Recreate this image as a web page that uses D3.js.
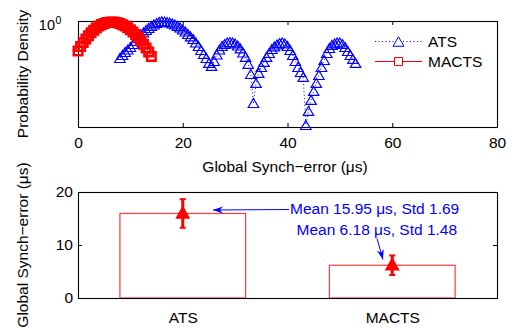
<!DOCTYPE html>
<html><head><meta charset="utf-8">
<script src="https://cdn.jsdelivr.net/npm/d3@7"></script>
<style>
body{margin:0;background:#fff}
svg{display:block;font-family:"Liberation Sans",Arial,Helvetica,sans-serif}
</style>
</head><body>
<svg id="chart" width="514" height="328"></svg>
<script>
// Synch-error probability density per method (log density axis)
const atsX = [8,8.5,9,9.5,10,10.5,11,11.5,12,12.5,13,13.5,14,14.5,15,15.5,16,16.5,17,17.5,18,18.5,19,19.5,20,20.5,21,21.5,22,22.5,23,23.5,24,24.5,25,25.5,26,26.5,27,27.5,28,28.5,29,29.5,30,30.5,31,31.5,32,32.5,33,33.5,34,34.5,35,35.5,36,36.5,37,37.5,38,38.5,39,39.5,40,40.5,41,41.5,42,42.5,43,43.5,44,44.5,45,45.5,46,46.5,47,47.5,48,48.5,49,49.5,50,50.5,51,51.5,52,52.5,53];
const atsDensity = [0.653,0.676,0.700,0.720,0.741,0.767,0.794,0.822,0.851,0.876,0.902,0.923,0.944,0.961,0.977,0.989,0.997,0.994,0.989,0.983,0.972,0.961,0.944,0.928,0.907,0.886,0.861,0.837,0.813,0.781,0.750,0.716,0.684,0.653,0.617,0.596,0.631,0.680,0.720,0.750,0.767,0.781,0.785,0.781,0.772,0.754,0.729,0.696,0.661,0.610,0.543,0.389,0.490,0.550,0.589,0.624,0.661,0.692,0.724,0.746,0.763,0.776,0.781,0.772,0.750,0.716,0.676,0.631,0.589,0.556,0.525,0.302,0.355,0.403,0.447,0.490,0.537,0.589,0.638,0.692,0.733,0.759,0.772,0.781,0.781,0.767,0.741,0.708,0.676,0.646,0.617];
const mactsX = [0,0.5,1,1.5,2,2.5,3,3.5,4,4.5,5,5.5,6,6.5,7,7.5,8,8.5,9,9.5,10,10.5,11,11.5,12,12.5,13,13.5,14];
const mactsDensity = [0.708,0.745,0.780,0.813,0.844,0.873,0.899,0.923,0.943,0.960,0.973,0.982,0.987,0.989,0.986,0.980,0.971,0.959,0.944,0.925,0.904,0.881,0.855,0.827,0.797,0.766,0.733,0.699,0.665];
const densityTicks = [0,20,40,60,80];

// Mean global synch-error per method
const methods = ["ATS","MACTS"];
const meanError = [15.95, 6.18];
const stdError = [1.69, 1.48];
const errorSpread = [2.7, 1.85];
const errorTicks = [0,10,20];

const svg = d3.select("#chart");
const FS = 15.5;
const BLUE = "#0000ff", RED = "#ff0000";

// ---------- upper panel: density ----------
const upper = {l:78, r:497, t:21, b:127};
const x1 = d3.scaleLinear().domain([0,80]).range([upper.l, upper.r]);
const y1 = d3.scaleLog().domain([0.295,1]).range([upper.b, upper.t]);

const gx1 = svg.append("g").attr("transform",`translate(0,${upper.b})`)
  .call(d3.axisBottom(x1).tickValues(densityTicks).tickSizeInner(-4).tickSizeOuter(0).tickPadding(10).tickFormat(d3.format("d")));
gx1.select(".domain").remove();
gx1.selectAll("text").attr("font-size",FS).attr("fill","#000").attr("font-family",null);
gx1.selectAll("line").attr("stroke","#000");
const gx1t = svg.append("g").attr("transform",`translate(0,${upper.t})`)
  .call(d3.axisTop(x1).tickValues(densityTicks).tickSizeInner(-4).tickSizeOuter(0).tickFormat(""));
gx1t.select(".domain").remove();

const gy1 = svg.append("g").attr("transform",`translate(${upper.l},0)`)
  .call(d3.axisLeft(y1).tickValues([1]).tickSizeInner(-4).tickSizeOuter(0).tickFormat(""));
gy1.select(".domain").remove();
svg.append("text").attr("x",55).attr("y",29.5).attr("text-anchor","end").attr("font-size",14.5).text("10");
svg.append("text").attr("x",55.5).attr("y",23.5).attr("font-size",10.5).text("0");

svg.append("rect").attr("x",upper.l+0.5).attr("y",upper.t+0.5).attr("width",upper.r-upper.l).attr("height",upper.b-upper.t)
  .attr("fill","none").attr("stroke","#000").attr("stroke-width",1.1);

const tri = (w,h) => `M0,${-h/2}L${w/2},${h/2}L${-w/2},${h/2}Z`;
const sq = s => `M${-s/2},${-s/2}h${s}v${s}h${-s}Z`;

const atsPts = atsX.map((v,i)=>[x1(v), y1(atsDensity[i])]);
const mactsPts = mactsX.map((v,i)=>[x1(v), y1(mactsDensity[i])]);

svg.append("path").attr("d", d3.line()(atsPts)).attr("fill","none").attr("stroke",BLUE)
  .attr("stroke-width",1).attr("stroke-dasharray","1,2.5");
svg.append("g").selectAll("path").data(atsPts).join("path")
  .attr("transform",d=>`translate(${d[0]},${d[1]})`).attr("d",tri(10.5,9))
  .attr("fill","none").attr("stroke",BLUE).attr("stroke-width",1.15);

svg.append("path").attr("d", d3.line()(mactsPts)).attr("fill","none").attr("stroke",RED).attr("stroke-width",1);
svg.append("g").selectAll("path").data(mactsPts).join("path")
  .attr("transform",d=>`translate(${d[0]},${d[1]})`).attr("d",sq(8.5))
  .attr("fill","none").attr("stroke",RED).attr("stroke-width",2.5);

// legend
const lg = svg.append("g");
lg.append("line").attr("x1",375).attr("x2",422).attr("y1",41.5).attr("y2",41.5)
  .attr("stroke",BLUE).attr("stroke-dasharray","1,2.5");
lg.append("path").attr("transform","translate(398.5,41.5)").attr("d",tri(11,9.5)).attr("fill","#fff").attr("stroke",BLUE);
lg.append("text").attr("x",428).attr("y",47).attr("font-size",FS).text("ATS");
lg.append("line").attr("x1",375).attr("x2",422).attr("y1",61.5).attr("y2",61.5).attr("stroke",RED);
lg.append("path").attr("transform","translate(398.5,61.5)").attr("d",sq(8)).attr("fill","#fff").attr("stroke",RED);
lg.append("text").attr("x",428).attr("y",67).attr("font-size",FS).text("MACTS");

svg.append("text").attr("x",285).attr("y",172).attr("text-anchor","middle").attr("font-size",FS)
  .text("Global Synch\u2212error (\u03bcs)");
svg.append("text").attr("transform","translate(28,74) rotate(-90)").attr("text-anchor","middle")
  .attr("font-size",FS).text("Probability Density");

// ---------- lower panel: mean synch-error ----------
const lower = {l:78, r:497, t:192, b:298};
const x2 = d3.scaleLinear().domain([0.5,2.5]).range([lower.l, lower.r]);
const y2 = d3.scaleLinear().domain([0,20]).range([lower.b, lower.t]);
const barW = 0.6;

const gy2 = svg.append("g").attr("transform",`translate(${lower.l},0)`)
  .call(d3.axisLeft(y2).tickValues(errorTicks).tickSizeInner(-4).tickSizeOuter(0).tickPadding(5));
gy2.select(".domain").remove();
gy2.selectAll("text").attr("font-size",FS).attr("fill","#000").attr("font-family",null);
gy2.selectAll("line").attr("stroke","#000");
const gy2r = svg.append("g").attr("transform",`translate(${lower.r},0)`)
  .call(d3.axisRight(y2).tickValues(errorTicks).tickSizeInner(-4).tickSizeOuter(0).tickFormat(""));
gy2r.select(".domain").remove();

const gx2 = svg.append("g").attr("transform",`translate(0,${lower.b})`)
  .call(d3.axisBottom(x2).tickValues([1,2]).tickSizeInner(0).tickSizeOuter(0).tickPadding(14).tickFormat((d,i)=>methods[i]));
gx2.select(".domain").remove();
gx2.selectAll("text").attr("font-size",FS).attr("fill","#000").attr("font-family",null);

svg.append("g").selectAll("rect").data(meanError).join("rect")
  .attr("x",(d,i)=>x2(i+1-barW/2)).attr("width",x2(barW)-x2(0))
  .attr("y",d=>y2(d)).attr("height",d=>y2(0)-y2(d))
  .attr("fill","#fff").attr("stroke","#ff3b3b").attr("stroke-width",1.2);

svg.append("rect").attr("x",lower.l+0.5).attr("y",lower.t+0.5).attr("width",lower.r-lower.l).attr("height",lower.b-lower.t)
  .attr("fill","none").attr("stroke","#000").attr("stroke-width",1.1);

// error bars with filled triangle markers
const eb = svg.append("g");
meanError.forEach((m,i)=>{
  const cx = x2(i+1);
  eb.append("line").attr("x1",cx).attr("x2",cx).attr("y1",y2(m+errorSpread[i])).attr("y2",y2(m-errorSpread[i]))
    .attr("stroke",RED).attr("stroke-width",3);
  [m+errorSpread[i], m-errorSpread[i]].forEach(v=>{
    eb.append("line").attr("x1",cx-3).attr("x2",cx+3).attr("y1",y2(v)).attr("y2",y2(v))
      .attr("stroke",RED).attr("stroke-width",2);
  });
  eb.append("path").attr("transform",`translate(${cx},${y2(m)-1.5})`).attr("d",tri(15,13.5)).attr("fill",RED);
});

// annotations
function arrow(xa,ya,xb,yb){
  const a = Math.atan2(yb-ya, xb-xa)*180/Math.PI;
  svg.append("line").attr("x1",xa).attr("y1",ya).attr("x2",xb).attr("y2",yb).attr("stroke",BLUE).attr("stroke-width",1);
  svg.append("path").attr("transform",`translate(${xb},${yb}) rotate(${a})`)
    .attr("d","M0,0L-10,-3.5L-7,0L-10,3.5Z").attr("fill",BLUE);
}
arrow(289,209.5,213,210);
arrow(377,238.5,383,259.5);
const fmt = (m,s)=>`Mean ${m} \u03bcs, Std ${s}`;
svg.append("text").attr("x",290).attr("y",213.5).attr("font-size",FS).attr("fill",BLUE).text(fmt(meanError[0],stdError[0]));
svg.append("text").attr("x",296.5).attr("y",234.5).attr("font-size",FS).attr("fill",BLUE).text(fmt(meanError[1],stdError[1]));

svg.append("text").attr("transform","translate(28,245) rotate(-90)").attr("text-anchor","middle")
  .attr("font-size",FS).text("Global Synch\u2212error (\u03bcs)");
</script>
</body></html>
